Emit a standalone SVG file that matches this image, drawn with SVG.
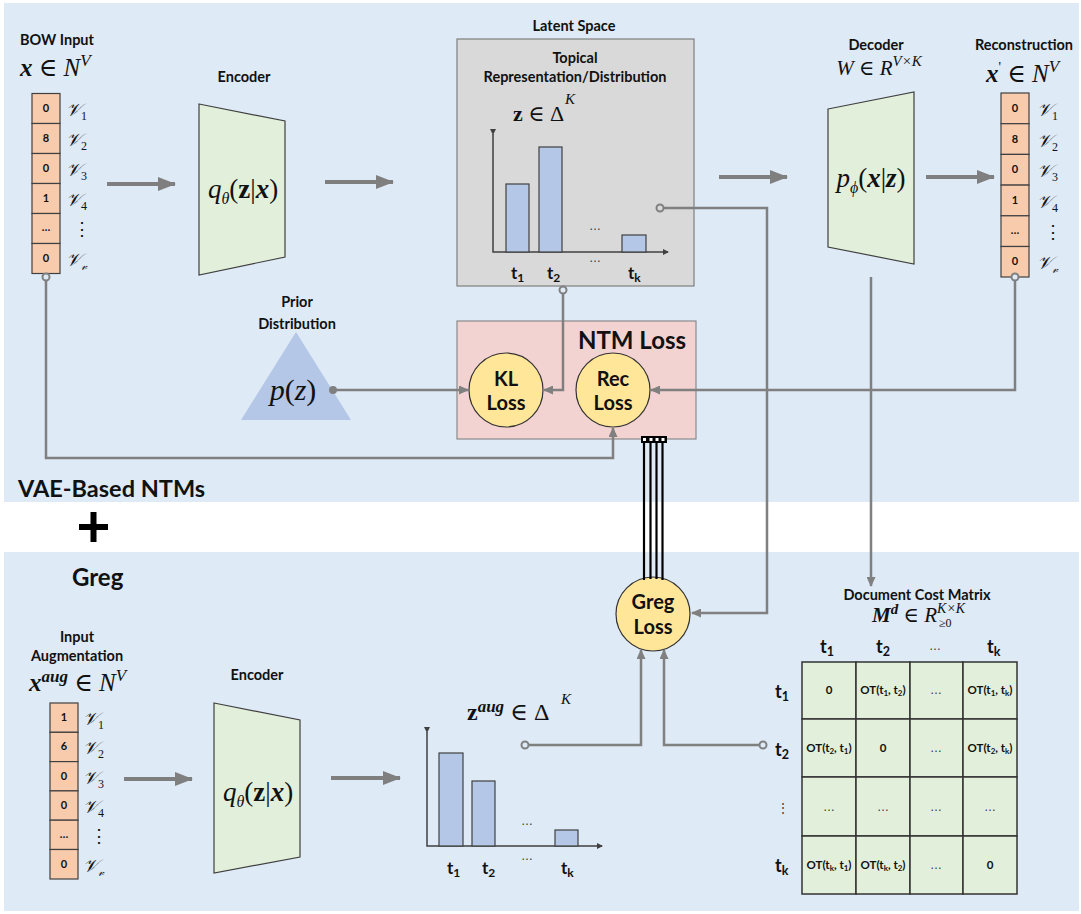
<svg xmlns="http://www.w3.org/2000/svg" width="1081" height="914" viewBox="0 0 1081 914">
<style>
.lbl{font-family:Lato,"Open Sans",sans-serif;font-weight:700;fill:#111}
.m{font-family:"Liberation Serif","DejaVu Serif",serif;fill:#111}
.it{font-style:italic}
.up{font-style:normal}
.bf{font-weight:700}
.cell{fill:#f8cbad;stroke:#404040;stroke-width:1.2}
.num{font-family:Lato,"Open Sans",sans-serif;font-weight:700;font-size:11px;text-anchor:middle;fill:#111}
.trap{fill:#e2efda;stroke:#404040;stroke-width:1.2}
.bar{fill:#b4c7e7;stroke:#404040;stroke-width:1.2}
.axis{stroke:#404040;stroke-width:1.5;fill:none}
.big{stroke:#7f7f7f;stroke-width:4;fill:none}
.con{stroke:#808080;stroke-width:2.5;fill:none}
.loss{fill:#ffe699;stroke:#333;stroke-width:1.2}
.mx{fill:#e2efda;stroke:#333;stroke-width:1.5}
.ct{font-family:Lato,"Open Sans",sans-serif;font-weight:700;font-size:11.5px;text-anchor:middle;fill:#111}
.dots{font-family:"Liberation Sans",sans-serif;font-size:12px;fill:#333;text-anchor:middle}
.wire{stroke:#000;stroke-width:2.2}
</style>
<defs>
<marker id="ab" markerUnits="userSpaceOnUse" markerWidth="18" markerHeight="14" refX="17" refY="7" orient="auto"><path d="M0,0 L18,7 L0,14 z" fill="#7f7f7f"/></marker>
<marker id="as" markerUnits="userSpaceOnUse" markerWidth="10" markerHeight="9" refX="9" refY="4.5" orient="auto"><path d="M0,0 L10,4.5 L0,9 z" fill="#808080"/></marker>
<marker id="ax" markerUnits="userSpaceOnUse" markerWidth="6" markerHeight="6" refX="5" refY="3" orient="auto"><path d="M0,0 L6,3 L0,6 z" fill="#404040"/></marker>
</defs>

<g id="panels">
<rect x="4" y="3" width="1075" height="499" fill="#deeaf6"/>
<rect x="4" y="552" width="1075" height="359" fill="#deeaf6"/>
<text class="lbl" x="18" y="497" font-size="23.5">VAE-Based NTMs</text>
<rect x="79" y="524" width="29" height="6" fill="#000"/>
<rect x="90.5" y="512" width="6" height="30" fill="#000"/>
<text class="lbl" x="72" y="586" font-size="24">Greg</text>
</g>

<g id="bow-input">
<text class="lbl" x="57" y="45" font-size="14.5" text-anchor="middle">BOW Input</text>
<text class="m" x="20" y="76" font-size="25"><tspan class="it bf">x</tspan> ∈ <tspan class="it">N</tspan><tspan class="it" font-size="17" dy="-10">V</tspan></text>
<rect class="cell" x="32" y="93.5" width="28" height="30"/>
<rect class="cell" x="32" y="123.5" width="28" height="30"/>
<rect class="cell" x="32" y="153.5" width="28" height="30"/>
<rect class="cell" x="32" y="183.5" width="28" height="30"/>
<rect class="cell" x="32" y="213.5" width="28" height="30"/>
<rect class="cell" x="32" y="243.5" width="28" height="30"/>
<text class="num" x="46" y="112">0</text>
<text class="num" x="46" y="142">8</text>
<text class="num" x="46" y="172">0</text>
<text class="num" x="46" y="202">1</text>
<text class="num" x="46" y="231" font-weight="400" font-size="8">…</text>
<text class="num" x="46" y="262">0</text>
<g class="m it" font-size="18">
<text x="66" y="116">𝒱<tspan class="up" font-size="12" dy="4">1</tspan></text>
<text x="66" y="146">𝒱<tspan class="up" font-size="12" dy="4">2</tspan></text>
<text x="66" y="176">𝒱<tspan class="up" font-size="12" dy="4">3</tspan></text>
<text x="66" y="206">𝒱<tspan class="up" font-size="12" dy="4">4</tspan></text>
<text x="73" y="235" font-style="normal">⋮</text>
<text x="66" y="266">𝒱<tspan font-size="12" dy="4">𝓋</tspan></text>
</g>
</g>

<g id="encoder-top">
<text class="lbl" x="244" y="82" font-size="14.5" text-anchor="middle">Encoder</text>
<polygon class="trap" points="199,104 285,121 285,257 199,275"/>
<text class="m" x="243" y="198" font-size="27" text-anchor="middle"><tspan class="it">q</tspan><tspan class="it" font-size="16" dy="6">θ</tspan><tspan dy="-6">(</tspan><tspan class="bf">z</tspan>|<tspan class="it bf">x</tspan>)</text>
</g>

<g id="latent-space">
<text class="lbl" x="574" y="31" font-size="14.5" text-anchor="middle">Latent Space</text>
<rect x="457" y="39" width="237" height="247" fill="#d9d9d9" stroke="#7f7f7f" stroke-width="1.2"/>
<text class="lbl" x="575" y="63" font-size="14.5" text-anchor="middle">Topical</text>
<text class="lbl" x="575" y="82" font-size="14.5" text-anchor="middle">Representation/Distribution</text>
<text class="m" x="513" y="121" font-size="22"><tspan class="bf">z</tspan> ∈ Δ</text>
<text class="m it" x="565" y="104" font-size="15">K</text>
<polyline class="axis" points="493,134 493,252 668,252" marker-start="url(#ax)" marker-end="url(#ax)"/>
<rect class="bar" x="506" y="184" width="23" height="68"/>
<rect class="bar" x="539" y="147" width="23" height="105"/>
<rect class="bar" x="622" y="235" width="24" height="17"/>
<text class="dots" x="595" y="230">…</text>
<text class="dots" x="595" y="262">…</text>
<text class="lbl" x="511" y="279" font-size="17">t<tspan font-size="12" dy="3">1</tspan></text>
<text class="lbl" x="547" y="279" font-size="17">t<tspan font-size="12" dy="3">2</tspan></text>
<text class="lbl" x="628" y="279" font-size="17">t<tspan font-size="12" dy="3">k</tspan></text>
</g>

<g id="decoder">
<text class="lbl" x="876" y="50" font-size="14.5" text-anchor="middle">Decoder</text>
<text class="m" x="879" y="75" font-size="21" text-anchor="middle"><tspan class="it">W</tspan> ∈ <tspan class="it">R</tspan><tspan class="it" font-size="15" dy="-9">V×K</tspan></text>
<polygon class="trap" points="828,109 914,92 914,264 828,247"/>
<text class="m" x="871" y="187" font-size="27" text-anchor="middle"><tspan class="it">p</tspan><tspan class="it" font-size="16" dy="6">ϕ</tspan><tspan dy="-6">(</tspan><tspan class="it bf">x</tspan>|<tspan class="it bf">z</tspan>)</text>
</g>

<g id="reconstruction">
<text class="lbl" x="1024" y="50" font-size="14.5" text-anchor="middle">Reconstruction</text>
<text class="m" x="986" y="82" font-size="25"><tspan class="it bf">x</tspan><tspan font-size="14" dy="-10">'</tspan><tspan dy="10"> ∈ </tspan><tspan class="it">N</tspan><tspan class="it" font-size="17" dy="-10">V</tspan></text>
<rect class="cell" x="1001" y="93" width="28" height="30.7"/>
<rect class="cell" x="1001" y="123.7" width="28" height="30.7"/>
<rect class="cell" x="1001" y="154.4" width="28" height="30.7"/>
<rect class="cell" x="1001" y="185.1" width="28" height="30.7"/>
<rect class="cell" x="1001" y="215.8" width="28" height="30.7"/>
<rect class="cell" x="1001" y="246.5" width="28" height="30.5"/>
<text class="num" x="1015" y="112">0</text>
<text class="num" x="1015" y="143">8</text>
<text class="num" x="1015" y="173">0</text>
<text class="num" x="1015" y="204">1</text>
<text class="num" x="1015" y="234" font-weight="400" font-size="8">…</text>
<text class="num" x="1015" y="265">0</text>
<g class="m it" font-size="18">
<text x="1037" y="116">𝒱<tspan class="up" font-size="12" dy="4">1</tspan></text>
<text x="1037" y="147">𝒱<tspan class="up" font-size="12" dy="4">2</tspan></text>
<text x="1037" y="177">𝒱<tspan class="up" font-size="12" dy="4">3</tspan></text>
<text x="1037" y="208">𝒱<tspan class="up" font-size="12" dy="4">4</tspan></text>
<text x="1044" y="238" font-style="normal">⋮</text>
<text x="1037" y="269">𝒱<tspan font-size="12" dy="4">𝓋</tspan></text>
</g>
</g>

<g id="prior">
<text class="lbl" x="297" y="307" font-size="14.5" text-anchor="middle">Prior</text>
<text class="lbl" x="297" y="329" font-size="14.5" text-anchor="middle">Distribution</text>
<polygon points="296,332 241,420 351,420" fill="#b4c7e7"/>
<text class="m it" x="293" y="400" font-size="30" text-anchor="middle">p<tspan font-style="normal">(</tspan>z<tspan font-style="normal">)</tspan></text>
</g>

<g id="ntm-loss">
<rect x="457" y="321" width="239" height="118" fill="#f2d3d1" stroke="#8a8a8a" stroke-width="1.2"/>
<text class="lbl" x="632" y="349" font-size="24" text-anchor="middle">NTM Loss</text>
</g>
<g id="kl-loss">
<circle class="loss" cx="506" cy="390" r="37"/>
<text class="lbl" x="506" y="386" font-size="20" text-anchor="middle">KL</text>
<text class="lbl" x="506" y="410" font-size="20" text-anchor="middle">Loss</text>
</g>
<g id="rec-loss">
<circle class="loss" cx="613" cy="390" r="37"/>
<text class="lbl" x="613" y="386" font-size="20" text-anchor="middle">Rec</text>
<text class="lbl" x="613" y="410" font-size="20" text-anchor="middle">Loss</text>
</g>

<g id="greg-loss">
<circle class="loss" cx="653" cy="614" r="37"/>
<text class="lbl" x="653" y="609" font-size="20" text-anchor="middle">Greg</text>
<text class="lbl" x="653" y="634" font-size="20" text-anchor="middle">Loss</text>
</g>

<g id="input-aug">
<text class="lbl" x="77" y="642" font-size="14.5" text-anchor="middle">Input</text>
<text class="lbl" x="77" y="661" font-size="14.5" text-anchor="middle">Augmentation</text>
<text class="m" x="29" y="691" font-size="25"><tspan class="it bf">x</tspan><tspan class="it bf" font-size="17" dy="-9">aug</tspan><tspan dy="9"> ∈ </tspan><tspan class="it">N</tspan><tspan class="it" font-size="17" dy="-10">V</tspan></text>
<rect class="cell" x="50" y="703" width="28" height="29.3"/>
<rect class="cell" x="50" y="732.3" width="28" height="29.3"/>
<rect class="cell" x="50" y="761.6" width="28" height="29.3"/>
<rect class="cell" x="50" y="790.9" width="28" height="29.3"/>
<rect class="cell" x="50" y="820.2" width="28" height="29.3"/>
<rect class="cell" x="50" y="849.5" width="28" height="29.5"/>
<text class="num" x="64" y="721">1</text>
<text class="num" x="64" y="750">6</text>
<text class="num" x="64" y="780">0</text>
<text class="num" x="64" y="809">0</text>
<text class="num" x="64" y="838" font-weight="400" font-size="8">…</text>
<text class="num" x="64" y="868">0</text>
<g class="m it" font-size="18">
<text x="83" y="725">𝒱<tspan class="up" font-size="12" dy="4">1</tspan></text>
<text x="83" y="754">𝒱<tspan class="up" font-size="12" dy="4">2</tspan></text>
<text x="83" y="784">𝒱<tspan class="up" font-size="12" dy="4">3</tspan></text>
<text x="83" y="813">𝒱<tspan class="up" font-size="12" dy="4">4</tspan></text>
<text x="90" y="842" font-style="normal">⋮</text>
<text x="83" y="872">𝒱<tspan font-size="12" dy="4">𝓋</tspan></text>
</g>
</g>

<g id="encoder-bottom">
<text class="lbl" x="257" y="680" font-size="14.5" text-anchor="middle">Encoder</text>
<polygon class="trap" points="214,703 300,720 300,857 214,873"/>
<text class="m" x="258" y="801" font-size="27" text-anchor="middle"><tspan class="it">q</tspan><tspan class="it" font-size="16" dy="6">θ</tspan><tspan dy="-6">(</tspan><tspan class="bf">z</tspan>|<tspan class="it bf">x</tspan>)</text>
</g>

<g id="z-aug">
<text class="m" x="467" y="720" font-size="24"><tspan class="bf">z</tspan><tspan class="it bf" font-size="17" dy="-8">aug</tspan><tspan dy="8"> ∈ Δ</tspan></text>
<text class="m it" x="561" y="704" font-size="15">K</text>
<polyline class="axis" points="427,732 427,846 602,846" marker-start="url(#ax)" marker-end="url(#ax)"/>
<rect class="bar" x="439" y="753" width="24" height="93"/>
<rect class="bar" x="472" y="781" width="23" height="65"/>
<rect class="bar" x="555" y="830" width="23" height="16"/>
<text class="dots" x="527" y="825">…</text>
<text class="dots" x="527" y="860">…</text>
<text class="lbl" x="447" y="874" font-size="17">t<tspan font-size="12" dy="3">1</tspan></text>
<text class="lbl" x="482" y="874" font-size="17">t<tspan font-size="12" dy="3">2</tspan></text>
<text class="lbl" x="561" y="874" font-size="17">t<tspan font-size="12" dy="3">k</tspan></text>
</g>

<g id="cost-matrix">
<text class="lbl" x="917" y="600" font-size="14.5" text-anchor="middle">Document Cost Matrix</text>
<text class="m" x="872" y="622" font-size="21"><tspan class="it bf">M</tspan><tspan class="it bf" font-size="15" dy="-8">d</tspan><tspan dy="8"> ∈ </tspan><tspan class="it">R</tspan><tspan class="it" font-size="14" dy="-9">K×K</tspan></text>
<text class="m" x="939" y="627" font-size="12">≥0</text>
<rect class="mx" x="802" y="662" width="54" height="57"/>
<rect class="mx" x="856" y="662" width="54" height="57"/>
<rect class="mx" x="910" y="662" width="53" height="57"/>
<rect class="mx" x="963" y="662" width="54" height="57"/>
<rect class="mx" x="802" y="719" width="54" height="58"/>
<rect class="mx" x="856" y="719" width="54" height="58"/>
<rect class="mx" x="910" y="719" width="53" height="58"/>
<rect class="mx" x="963" y="719" width="54" height="58"/>
<rect class="mx" x="802" y="777" width="54" height="59"/>
<rect class="mx" x="856" y="777" width="54" height="59"/>
<rect class="mx" x="910" y="777" width="53" height="59"/>
<rect class="mx" x="963" y="777" width="54" height="59"/>
<rect class="mx" x="802" y="836" width="54" height="58"/>
<rect class="mx" x="856" y="836" width="54" height="58"/>
<rect class="mx" x="910" y="836" width="53" height="58"/>
<rect class="mx" x="963" y="836" width="54" height="58"/>
<text class="lbl" x="820" y="653" font-size="18">t<tspan font-size="12.5" dy="3">1</tspan></text>
<text class="lbl" x="876" y="653" font-size="18">t<tspan font-size="12.5" dy="3">2</tspan></text>
<text class="dots" x="935" y="650">…</text>
<text class="lbl" x="987" y="653" font-size="18">t<tspan font-size="12.5" dy="3">k</tspan></text>
<text class="lbl" x="775" y="698" font-size="18">t<tspan font-size="12.5" dy="3">1</tspan></text>
<text class="lbl" x="775" y="756" font-size="18">t<tspan font-size="12.5" dy="3">2</tspan></text>
<text class="dots" x="783" y="812" font-size="14">⋮</text>
<text class="lbl" x="775" y="872" font-size="18">t<tspan font-size="12.5" dy="3">k</tspan></text>
<text class="ct" x="829" y="694">0</text>
<text class="ct" x="883" y="694">OT(t<tspan font-size="8" dy="2">1</tspan><tspan dy="-2">, t</tspan><tspan font-size="8" dy="2">2</tspan><tspan dy="-2">)</tspan></text>
<text class="dots" x="936" y="694">…</text>
<text class="ct" x="990" y="694">OT(t<tspan font-size="8" dy="2">1</tspan><tspan dy="-2">, t</tspan><tspan font-size="8" dy="2">k</tspan><tspan dy="-2">)</tspan></text>
<text class="ct" x="829" y="752">OT(t<tspan font-size="8" dy="2">2</tspan><tspan dy="-2">, t</tspan><tspan font-size="8" dy="2">1</tspan><tspan dy="-2">)</tspan></text>
<text class="ct" x="883" y="752">0</text>
<text class="dots" x="936" y="752">…</text>
<text class="ct" x="990" y="752">OT(t<tspan font-size="8" dy="2">2</tspan><tspan dy="-2">, t</tspan><tspan font-size="8" dy="2">k</tspan><tspan dy="-2">)</tspan></text>
<text class="dots" x="829" y="811">…</text>
<text class="dots" x="883" y="811">…</text>
<text class="dots" x="936" y="811">…</text>
<text class="dots" x="990" y="811">…</text>
<text class="ct" x="829" y="869">OT(t<tspan font-size="8" dy="2">k</tspan><tspan dy="-2">, t</tspan><tspan font-size="8" dy="2">1</tspan><tspan dy="-2">)</tspan></text>
<text class="ct" x="883" y="869">OT(t<tspan font-size="8" dy="2">k</tspan><tspan dy="-2">, t</tspan><tspan font-size="8" dy="2">2</tspan><tspan dy="-2">)</tspan></text>
<text class="dots" x="936" y="869">…</text>
<text class="ct" x="990" y="869">0</text>
</g>

<g id="connectors">
<line class="big" x1="107" y1="184" x2="175" y2="184" marker-end="url(#ab)"/>
<line class="big" x1="325" y1="182" x2="393" y2="182" marker-end="url(#ab)"/>
<line class="big" x1="719" y1="177" x2="787" y2="177" marker-end="url(#ab)"/>
<line class="big" x1="926" y1="177" x2="994" y2="177" marker-end="url(#ab)"/>
<line class="big" x1="124" y1="779" x2="192" y2="779" marker-end="url(#ab)"/>
<line class="big" x1="331" y1="778" x2="400" y2="778" marker-end="url(#ab)"/>
<polyline class="con" points="660,208 767,208 767,613 692,613" marker-end="url(#as)"/>
<polyline class="con" points="563,290 563,390 544,390" marker-end="url(#as)"/>
<polyline class="con" points="333,390 468,390" marker-end="url(#as)"/>
<polyline class="con" points="1015,277 1015,390 651,390" marker-end="url(#as)"/>
<polyline class="con" points="46,277 46,458 613,458 613,428" marker-end="url(#as)"/>
<line class="con" x1="871" y1="277" x2="871" y2="586" marker-end="url(#as)"/>
<polyline class="con" points="525,745 641,745 641,650" marker-end="url(#as)"/>
<polyline class="con" points="763,745 664,745 664,650" marker-end="url(#as)"/>
<circle cx="660" cy="208" r="3.5" fill="#d9d9d9" stroke="#808080" stroke-width="2"/>
<circle cx="563" cy="290" r="3.5" fill="#deeaf6" stroke="#808080" stroke-width="2"/>
<circle cx="333" cy="390" r="4" fill="#808080"/>
<circle cx="1015" cy="277" r="3.5" fill="#deeaf6" stroke="#808080" stroke-width="2"/>
<circle cx="46" cy="277" r="3.5" fill="#deeaf6" stroke="#808080" stroke-width="2"/>
<circle cx="525" cy="745" r="3.5" fill="#deeaf6" stroke="#808080" stroke-width="2"/>
<circle cx="763" cy="745" r="3.5" fill="#deeaf6" stroke="#808080" stroke-width="2"/>
<rect x="641" y="436" width="26" height="7" fill="#000"/>
<rect x="643" y="438" width="3" height="3" fill="#fff"/>
<rect x="649.5" y="438" width="3" height="3" fill="#fff"/>
<rect x="655.5" y="438" width="3" height="3" fill="#fff"/>
<rect x="661.5" y="438" width="3" height="3" fill="#fff"/>
<line class="wire" x1="644" y1="443" x2="644" y2="580"/>
<line class="wire" x1="650.5" y1="443" x2="650.5" y2="579"/>
<line class="wire" x1="656.5" y1="443" x2="656.5" y2="579"/>
<line class="wire" x1="662.5" y1="443" x2="662.5" y2="580"/>
</g>
</svg>
